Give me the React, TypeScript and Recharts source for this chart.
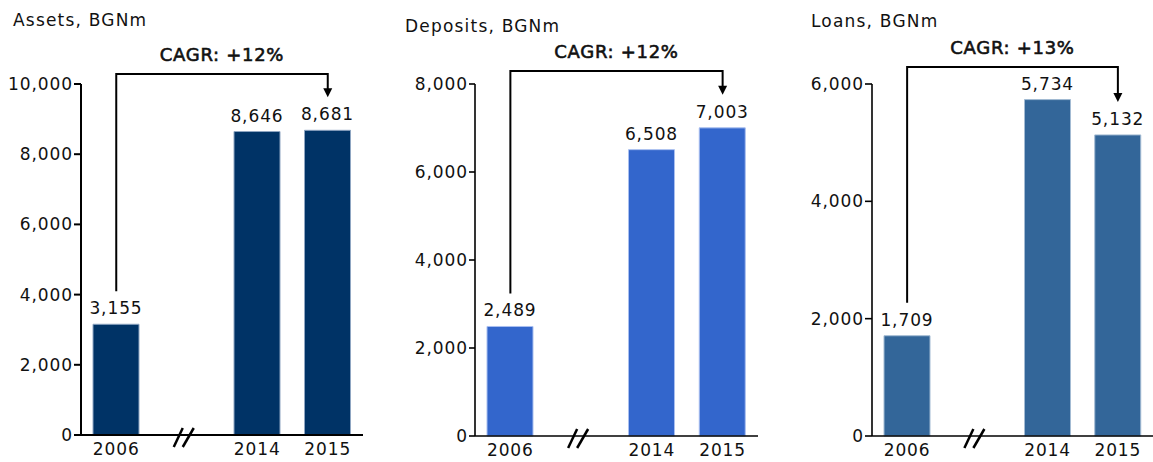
import React from 'react';
import { BarChart, Bar, XAxis, YAxis, LabelList, ReferenceLine } from 'recharts';

const categories = ['2006', '//', '2014', '2015'];
const assetsValues: (number | null)[] = [3155, null, 8646, 8681];
const depositsValues: (number | null)[] = [2489, null, 6508, 7003];
const loansValues: (number | null)[] = [1709, null, 5734, 5132];
const assetsTicks = [0, 2000, 4000, 6000, 8000, 10000];
const depositsTicks = [0, 2000, 4000, 6000, 8000];
const loansTicks = [0, 2000, 4000, 6000];
const titles = ['Assets, BGNm', 'Deposits, BGNm', 'Loans, BGNm'];
const cagrLabels = ['CAGR: +12%', 'CAGR: +12%', 'CAGR: +13%'];

const FONT = '"DejaVu Sans", Verdana, sans-serif';
const TEXT = '#111';
const LS = '0.9px';
const FS = 17;

const fmt = (v: number) => v.toLocaleString('en-US');

interface PanelProps {
  title: string;
  cagr: string;
  values: (number | null)[];
  ticks: number[];
  left: number;
  width: number;
  yAxisWidth: number;
  marginRight: number;
  marginBottom: number;
  axisWidth: number;
  tickSize: number;
  color: string;
  edge: string;
  bracketY: number;
  titleX: number;
  titleY: number;
}

const XTick = (props: any) => {
  const { x, y, payload } = props;
  const axisY = y - 8;
  if (payload.value === '//') {
    return (
      <g>
        <line x1={x - 13} y1={axisY + 12} x2={x - 4} y2={axisY - 7} stroke="#000" strokeWidth={2.5} />
        <line x1={x - 4} y1={axisY + 12} x2={x + 7} y2={axisY - 7} stroke="#000" strokeWidth={2.5} />
      </g>
    );
  }
  return (
    <text
      x={x}
      y={y}
      dy="0.71em"
      textAnchor="middle"
      fill={TEXT}
      fontSize={FS}
      fontFamily={FONT}
      style={{ letterSpacing: LS }}
    >
      {payload.value}
    </text>
  );
};

const YTick = (props: any) => {
  const { x, y, payload } = props;
  return (
    <text
      x={x}
      y={y}
      dy="0.355em"
      textAnchor="end"
      fill={TEXT}
      fontSize={FS}
      fontFamily={FONT}
      style={{ letterSpacing: LS }}
    >
      {fmt(payload.value)}
    </text>
  );
};

const Bracket = (props: any) => {
  const { x1, y1, x2, y2, bracketY, text } = props;
  if ([x1, y1, x2, y2].some((v) => typeof v !== 'number' || isNaN(v))) return null;
  const drop = 33;
  const leftEnd = y1 - drop;
  const rightEnd = y2 - drop;
  const head = 9;
  return (
    <g>
      <path
        d={`M${x1},${leftEnd} V${bracketY} H${x2} V${rightEnd - head + 1}`}
        fill="none"
        stroke="#000"
        strokeWidth={2}
      />
      <polygon
        points={`${x2 - 4.5},${rightEnd - head} ${x2 + 4.5},${rightEnd - head} ${x2},${rightEnd}`}
        fill="#000"
      />
      <text
        x={(x1 + x2) / 2}
        y={bracketY - 13.5}
        textAnchor="middle"
        fontSize={18}
        fill={TEXT}
        stroke={TEXT}
        strokeWidth={0.6}
        fontFamily={FONT}
        style={{ letterSpacing: '0.7px' }}
      >
        {text}
      </text>
    </g>
  );
};

const ValueLabel = (props: any) => {
  const { x, y, width, value } = props;
  if (value === null || value === undefined || typeof x !== 'number') return null;
  return (
    <text
      x={x + width / 2}
      y={y - 10}
      textAnchor="middle"
      fontSize={FS}
      fill={TEXT}
      fontFamily={FONT}
      style={{ letterSpacing: LS }}
    >
      {fmt(value)}
    </text>
  );
};

const Panel = (p: PanelProps) => {
  const data = categories.map((c, i) => ({ category: c, value: p.values[i] }));
  const first = data[0];
  const last = data[data.length - 1];
  const max = p.ticks[p.ticks.length - 1];
  return (
    <div style={{ position: 'absolute', left: p.left, top: 0, width: p.width, height: 462 }}>
      <svg
        width={p.width}
        height={40}
        style={{ position: 'absolute', left: 0, top: 0, overflow: 'visible' }}
      >
        <text
          x={p.titleX - p.left}
          y={p.titleY}
          fontSize={17}
          fill={TEXT}
          fontFamily={FONT}
          style={{ letterSpacing: '1.2px' }}
        >
          {p.title}
        </text>
      </svg>
      <BarChart
        width={p.width}
        height={462}
        data={data}
        margin={{ top: 84, right: p.marginRight, bottom: p.marginBottom, left: 0 }}
        style={{ position: 'absolute', left: 0, top: 0 }}
      >
        <XAxis
          dataKey="category"
          interval={0}
          height={26}
          tickLine={false}
          tickSize={6}
          tickMargin={2}
          axisLine={{ stroke: '#000', strokeWidth: p.axisWidth }}
          tick={<XTick />}
        />
        <YAxis
          width={p.yAxisWidth}
          domain={[0, max]}
          ticks={p.ticks}
          interval={0}
          tickSize={p.tickSize}
          tickMargin={1}
          axisLine={{ stroke: '#000', strokeWidth: p.axisWidth }}
          tickLine={{ stroke: '#000', strokeWidth: p.axisWidth }}
          tick={<YTick />}
        />
        <Bar
          dataKey="value"
          fill={p.color}
          stroke={p.edge}
          strokeWidth={1}
          barSize={46}
          isAnimationActive={false}
        >
          <LabelList dataKey="value" content={<ValueLabel />} />
        </Bar>
        <ReferenceLine
          ifOverflow="visible"
          segment={[
            { x: first.category, y: first.value as number },
            { x: last.category, y: last.value as number },
          ]}
          shape={(sp: any) => <Bracket {...sp} bracketY={p.bracketY} text={p.cagr} />}
        />
      </BarChart>
    </div>
  );
};

export default function App() {
  return (
    <div
      style={{
        position: 'absolute',
        left: 0,
        top: 0,
        width: 1153,
        height: 462,
        background: '#fff',
        fontFamily: FONT,
        overflow: 'hidden',
      }}
    >
      <Panel
        title={titles[0]}
        cagr={cagrLabels[0]}
        values={assetsValues}
        ticks={assetsTicks}
        left={0}
        width={380}
        yAxisWidth={81}
        marginRight={17}
        marginBottom={1}
        axisWidth={2}
        tickSize={7}
        color="#003366"
        edge="#8fa6c2"
        bracketY={74}
        titleX={13}
        titleY={25.5}
      />
      <Panel
        title={titles[1]}
        cagr={cagrLabels[1]}
        values={depositsValues}
        ticks={depositsTicks}
        left={400}
        width={380}
        yAxisWidth={75}
        marginRight={22}
        marginBottom={0}
        axisWidth={1.6}
        tickSize={6}
        color="#3366CC"
        edge="#a9bff0"
        bracketY={71}
        titleX={405}
        titleY={31.7}
      />
      <Panel
        title={titles[2]}
        cagr={cagrLabels[2]}
        values={loansValues}
        ticks={loansTicks}
        left={780}
        width={373}
        yAxisWidth={92}
        marginRight={0}
        marginBottom={0}
        axisWidth={1.6}
        tickSize={7}
        color="#336699"
        edge="#a3bbd3"
        bracketY={67}
        titleX={811}
        titleY={26.7}
      />
    </div>
  );
}
